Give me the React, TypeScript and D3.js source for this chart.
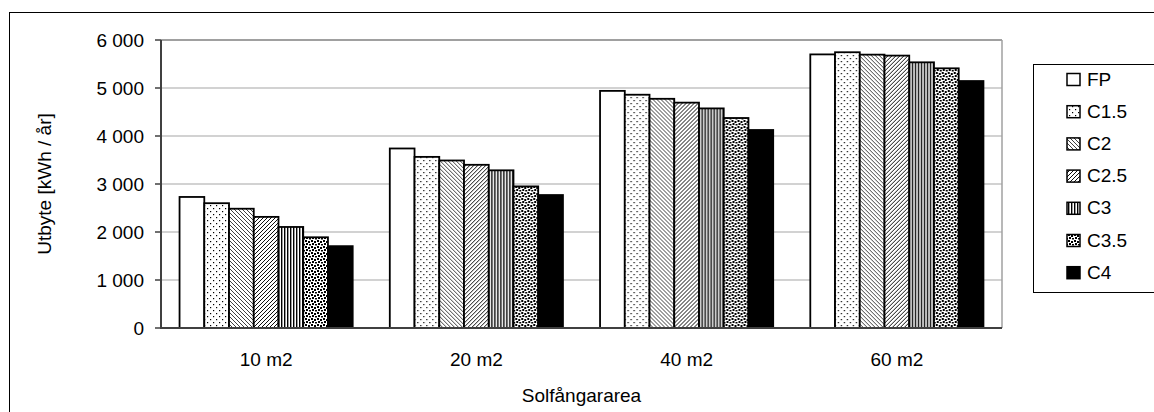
import React from "react";
import * as d3 from "d3";

// Solar collector yield per collector area and collector type
const categories = ["10 m2", "20 m2", "40 m2", "60 m2"];
const seriesNames = ["FP", "C1.5", "C2", "C2.5", "C3", "C3.5", "C4"];
const fp = [2730, 3740, 4940, 5700];
const c15 = [2600, 3565, 4860, 5745];
const c2 = [2485, 3490, 4775, 5695];
const c25 = [2315, 3400, 4695, 5675];
const c3 = [2105, 3285, 4575, 5535];
const c35 = [1890, 2950, 4375, 5410];
const c4 = [1705, 2770, 4125, 5145];
const seriesValues = [fp, c15, c2, c25, c3, c35, c4];
const yTicks = [0, 1000, 2000, 3000, 4000, 5000, 6000];

const W = 1154;
const H = 412;
const plot = { left: 161, right: 1002, top: 40, bottom: 328 };
const font = "'Liberation Sans', Arial, Helvetica, sans-serif";

const fills = [
  "#ffffff",
  "url(#pDots)",
  "url(#pDown)",
  "url(#pUp)",
  "url(#pVert)",
  "url(#pConfetti)",
  "#000000",
];

const fmt = (v: number) => d3.format(",")(v).replace(/,/g, "\u00a0");

export default function App() {
  const x0 = d3
    .scaleBand<string>()
    .domain(categories)
    .range([plot.left, plot.right])
    .paddingInner(0)
    .paddingOuter(0);
  const groupW = x0.bandwidth();
  const barW = groupW / (seriesNames.length + 1.5);
  const x1 = d3
    .scaleBand<string>()
    .domain(seriesNames)
    .range([barW * 0.75, groupW - barW * 0.75])
    .padding(0);
  const y = d3.scaleLinear().domain([0, 6000]).range([plot.bottom, plot.top]);

  const legendTop = 64;
  const legendStep = 32.2;

  return (
    <svg
      width={W}
      height={H}
      style={{ position: "absolute", left: 0, top: 0, background: "#fff" }}
      fontFamily={font}
    >
      <defs>
        <pattern id="pDots" width="6" height="6" patternUnits="userSpaceOnUse">
          <rect width="6" height="6" fill="#fff" />
          <rect x="1" y="1" width="1.2" height="1.2" fill="#000" />
          <rect x="4" y="4" width="1.2" height="1.2" fill="#000" />
        </pattern>
        <pattern id="pDown" width="4" height="4" patternUnits="userSpaceOnUse">
          <rect width="4" height="4" fill="#fff" />
          <path d="M-1,-1 L5,5 M-1,3 L1,5 M3,-1 L5,1" stroke="#000" strokeWidth="0.75" />
        </pattern>
        <pattern id="pUp" width="4" height="4" patternUnits="userSpaceOnUse">
          <rect width="4" height="4" fill="#fff" />
          <path d="M-1,5 L5,-1 M-1,1 L1,-1 M3,5 L5,3" stroke="#000" strokeWidth="0.95" />
        </pattern>
        <pattern id="pVert" width="3" height="3" patternUnits="userSpaceOnUse">
          <rect width="3" height="3" fill="#fff" />
          <rect x="0" width="1.4" height="3" fill="#000" />
        </pattern>
        <pattern id="pConfetti" width="6" height="6" patternUnits="userSpaceOnUse">
          <rect width="6" height="6" fill="#fff" />
          <rect x="0" y="0" width="2" height="2" fill="#000" />
          <rect x="3" y="1" width="2" height="2" fill="#000" />
          <rect x="1" y="3" width="2" height="2" fill="#000" />
          <rect x="4" y="4" width="2" height="1.5" fill="#000" />
        </pattern>
      </defs>

      {/* outer chart frame */}
      <rect x={9.5} y={12.5} width={W + 20} height={H + 20} fill="none" stroke="#000" strokeWidth={1} />

      {/* gridlines */}
      {yTicks.map((t) => (
        <line
          key={"g" + t}
          x1={plot.left}
          x2={plot.right}
          y1={y(t)}
          y2={y(t)}
          stroke={t === 6000 ? "#808080" : "#a6a6a6"}
          strokeWidth={t === 6000 ? 1.5 : 1.2}
        />
      ))}
      {/* right border of plot area */}
      <line x1={plot.right} x2={plot.right} y1={plot.top} y2={plot.bottom} stroke="#a0a0a0" strokeWidth={1.5} />

      {/* bars */}
      {categories.map((c, ci) => (
        <g key={c} transform={`translate(${x0(c)},0)`}>
          {seriesNames.map((s, si) => {
            const v = seriesValues[si][ci];
            return (
              <rect
                key={s}
                x={x1(s)}
                y={y(v)}
                width={x1.bandwidth()}
                height={plot.bottom - y(v)}
                fill={fills[si]}
                stroke="#000"
                strokeWidth={1.8}
              />
            );
          })}
        </g>
      ))}

      {/* axes */}
      <line x1={plot.left} x2={plot.left} y1={plot.top} y2={plot.bottom + 1} stroke="#404040" strokeWidth={2} />
      <line x1={plot.left} x2={plot.right} y1={plot.bottom} y2={plot.bottom} stroke="#404040" strokeWidth={2} />
      {yTicks.map((t) => (
        <g key={"t" + t}>
          <line x1={plot.left - 6} x2={plot.left} y1={y(t)} y2={y(t)} stroke="#404040" strokeWidth={1.5} />
          <text x={144} y={y(t)} dy="0.35em" textAnchor="end" fontSize={19} fill="#000">
            {fmt(t)}
          </text>
        </g>
      ))}
      {categories.map((c) => (
        <text
          key={"x" + c}
          x={(x0(c) as number) + groupW / 2}
          y={359}
          dy="0.35em"
          textAnchor="middle"
          fontSize={19}
          fill="#000"
        >
          {c}
        </text>
      ))}

      {/* axis titles */}
      <text x={(plot.left + plot.right) / 2} y={395} dy="0.35em" textAnchor="middle" fontSize={19} fill="#000">
        Solfångararea
      </text>
      <text
        transform={`translate(44,${(plot.top + plot.bottom) / 2}) rotate(-90)`}
        dy="0.35em"
        textAnchor="middle"
        fontSize={19}
        fill="#000"
      >
        Utbyte [kWh / år]
      </text>

      {/* legend */}
      <rect x={1033.5} y={64.5} width={140} height={228} fill="#fff" stroke="#000" strokeWidth={1} />
      {seriesNames.map((s, si) => {
        const cy = legendTop + 15 + si * legendStep;
        return (
          <g key={"l" + s}>
            <rect x={1067} y={cy - 5.5} width={13} height={12} fill={fills[si]} stroke="#000" strokeWidth={1.5} />
            <text x={1087} y={cy} dy="0.35em" fontSize={19} fill="#000">
              {s}
            </text>
          </g>
        );
      })}
    </svg>
  );
}
